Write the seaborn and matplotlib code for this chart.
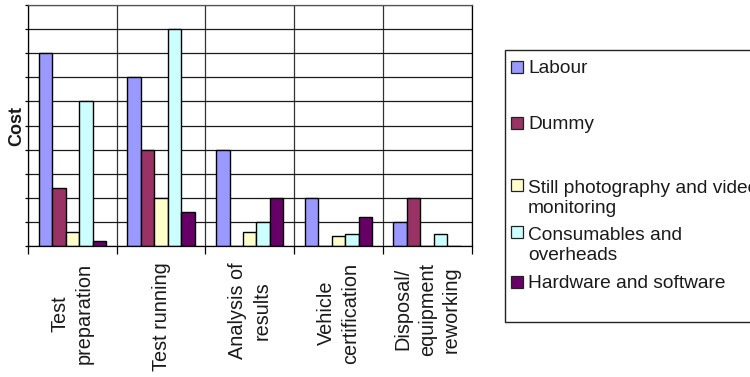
import matplotlib
matplotlib.use("Agg")
import matplotlib.pyplot as plt
from matplotlib.patches import Rectangle
from matplotlib.ticker import FixedLocator
import numpy as np
import pandas as pd
import seaborn as sns

# Test phases along the x axis
stages = ["Test\npreparation", "Test running", "Analysis of\nresults",
          "Vehicle\ncertification", "Disposal/\nequipment\nreworking"]

# Cost items (series)
items = ["Labour", "Dummy", "Still photography and video\nmonitoring",
         "Consumables and\noverheads", "Hardware and software"]

# Relative cost of each item per phase
labour      = [8.0, 7.0, 4.0, 2.0, 1.0]
dummy       = [2.4, 4.0, 0.0, 0.0, 2.0]
photo_video = [0.6, 2.0, 0.6, 0.4, 0.0]
consumables = [6.0, 9.0, 1.0, 0.5, 0.5]
hardware    = [0.2, 1.4, 2.0, 1.2, 0.0]

colors = ["#9999FF", "#993366", "#FFFFCC", "#CCFFFF", "#660066"]

series = [labour, dummy, photo_video, consumables, hardware]
df = pd.DataFrame({
    "stage": stages * len(items),
    "item": [it for it in items for _ in stages],
    "cost": [v for s in series for v in s],
})

sns.set_theme(style="white")
plt.rcParams["font.family"] = ["Liberation Sans", "DejaVu Sans"]

W, H = 750, 377
fig = plt.figure(figsize=(W / 100, H / 100), dpi=100)

# plot area in pixels
px_l, px_r, px_t, px_b = 28, 471.5, 5, 246
ax = fig.add_axes([px_l / W, 1 - px_b / H, (px_r - px_l) / W, (px_b - px_t) / H])

sns.barplot(data=df, x="stage", y="cost", hue="item", order=stages,
            hue_order=items, palette=colors, saturation=1, width=0.76,
            edgecolor="black", linewidth=1.0, legend=False, ax=ax)

ax.set_xlim(-0.5, len(stages) - 0.5)
ax.set_ylim(0, 10)

# horizontal grid at every unit, vertical separators between phases
ax.set_yticks(np.arange(0, 11, 1))
ax.set_yticklabels([])
ax.yaxis.grid(True, color="#1a1a1a", linewidth=0.9)
ax.xaxis.set_minor_locator(FixedLocator(np.arange(-0.5, len(stages), 1.0)))
ax.xaxis.grid(True, which="minor", color="#333333", linewidth=0.9)
ax.xaxis.grid(False, which="major")
ax.set_axisbelow(True)

ax.tick_params(axis="y", which="major", left=True, length=2, width=0.9,
               color="black", direction="out")
ax.tick_params(axis="x", which="minor", bottom=True, length=6, width=0.9,
               color="black", direction="out")
ax.tick_params(axis="x", which="major", bottom=False, length=0, pad=12)

for lab in ax.get_xticklabels():
    lab.set_rotation(90)
    lab.set_ha("center")
    lab.set_va("top")
    lab.set_multialignment("center")
    lab.set_fontsize(14.3)
    lab.set_color("#1a1a1a")
    lab.set_linespacing(1.32)

for sp in ax.spines.values():
    sp.set_color("black")
    sp.set_linewidth(0.9)
ax.spines["top"].set_color("#555555")

ax.set_xlabel("")
ax.set_ylabel("Cost", fontsize=13, fontweight="bold", color="#1a1a1a")
ax.yaxis.set_label_coords(-0.006, 0.5)

# legend box drawn in figure pixels
def fx(x):
    return x / W

def fy(y):
    return 1 - y / H

fig.add_artist(Rectangle((fx(505), fy(322)), fx(760) - fx(505), fy(50) - fy(322),
                         transform=fig.transFigure, facecolor="white",
                         edgecolor="#222222", linewidth=1.0))
marker_y = [67, 123, 185, 232, 282]
line_step = 22
for label, col, my in zip(items, colors, marker_y):
    fig.add_artist(Rectangle((fx(511), fy(my + 6)), fx(12), fy(0) - fy(12),
                             transform=fig.transFigure, facecolor=col,
                             edgecolor="#222222", linewidth=0.9))
    n_lines = label.count("\n") + 1
    fig.text(fx(528), fy(my + 6.3 + (n_lines - 1) * line_step), label,
             fontsize=13.8, color="#1a1a1a", ha="left", va="baseline",
             linespacing=1.28)

fig.savefig("out.png", dpi=100)
